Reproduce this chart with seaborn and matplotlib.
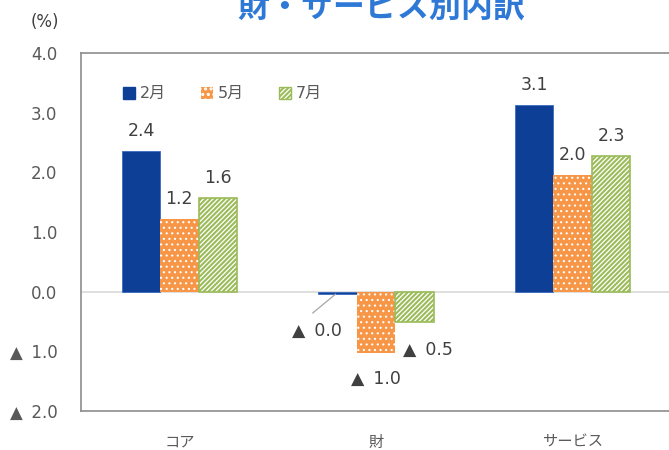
import matplotlib
matplotlib.use("Agg")
import matplotlib.pyplot as plt
import seaborn as sns
import pandas as pd
from matplotlib.patches import Patch

categories = ["コア", "財", "サービス"]
months = ["2月", "5月", "7月"]
feb = [2.36, -0.04, 3.13]
may = [1.22, -1.03, 1.96]
jul = [1.57, -0.51, 2.27]
yticks = [-2.0, -1.0, 0.0, 1.0, 2.0, 3.0, 4.0]
title = "財・サービス別内訳"
unit = "(%)"

colors = {"2月": "#0D3F96", "5月": "#F79646", "7月": "#9BBB59"}
TXT = "#595959"

sns.set_theme(style="white")
plt.rcParams["font.family"] = ["DejaVu Sans", "Noto Sans CJK JP"]
plt.rcParams["hatch.linewidth"] = 1.5

rows = []
for m, vals in zip(months, [feb, may, jul]):
    for c, v in zip(categories, vals):
        rows.append({"cat": c, "month": m, "val": v})
df = pd.DataFrame(rows)

fig = plt.figure(figsize=(6.69, 4.5), dpi=100)
ax = fig.add_axes([81 / 669, 1 - 411 / 450, 590 / 669, 358 / 450])

sns.barplot(data=df, x="cat", y="val", hue="month", order=categories,
            hue_order=months, palette=colors, width=0.585, ax=ax,
            legend=False, errorbar=None, saturation=1)


def style_dots(p):
    p.set_facecolor(colors["5月"])
    p.set_edgecolor("white")
    p.set_hatch("...")
    p.set_linewidth(0)
    if hasattr(p, "set_hatch_linewidth"):
        p.set_hatch_linewidth(0.8)


for m, cont in zip(months, ax.containers):
    for bar in cont:
        if m == "2月":
            bar.set_facecolor(colors[m])
            bar.set_edgecolor("#3B6CC0")
            bar.set_linewidth(0.6)
        elif m == "5月":
            style_dots(bar)
        else:
            bar.set_facecolor("white")
            bar.set_edgecolor(colors[m])
            bar.set_hatch("///////")
            bar.set_linewidth(1.2)


def fmt(v):
    if v < 0:
        return "▲ \u2009%.1f" % abs(v)
    return "%.1f" % v


# label offsets in pixels (dx, dy) relative to bar end
px = 0.72
special = {(0, 1): (-21, -37), (2, 1): (14, -28)}
for mi, cont in enumerate(ax.containers):
    for ci, bar in enumerate(cont):
        h = bar.get_height()
        xc = bar.get_x() + bar.get_width() / 2
        yend = bar.get_y() + h
        dx, dy = special.get((mi, ci), (0, 20 if h >= 0 else -26))
        ax.annotate(fmt(h), (xc, yend), xytext=(dx * px, dy * px),
                    textcoords="offset points", ha="center", va="center",
                    fontsize=12.5, color="#404040")
        if (mi, ci) == (0, 1):
            ax.annotate("", (xc - 2 / 197, yend), xytext=(-23 * px, -19 * px),
                        textcoords="offset points",
                        arrowprops=dict(arrowstyle="-", color="#A6A6A6", lw=0.9,
                                        shrinkA=0, shrinkB=0))

ax.set_ylim(-2, 4)
ax.set_xlim(-0.5, 2.5)
ax.set_yticks(yticks)
ax.set_yticklabels([fmt(t) for t in yticks], fontsize=12, color=TXT)
ax.tick_params(axis="y", length=0, pad=17)
ax.tick_params(axis="x", length=0, pad=17, labelsize=11, labelcolor=TXT)
ax.set_xlabel("")
ax.set_ylabel("")
for s in ["left", "top", "bottom"]:
    ax.spines[s].set_color("#8C8C8C")
    ax.spines[s].set_linewidth(1.2)
ax.spines["right"].set_visible(False)
ax.axhline(0, color="#D9D9D9", lw=1.2, zorder=0.5)

dot_handle = Patch(label="5月")
style_dots(dot_handle)
handles = [
    Patch(facecolor=colors["2月"], edgecolor=colors["2月"], label="2月"),
    dot_handle,
    Patch(facecolor="white", edgecolor=colors["7月"], hatch="///////", lw=1.0, label="7月"),
]
leg = ax.legend(handles=handles, ncol=3, loc="upper left",
                bbox_to_anchor=(0.06, 0.925), frameon=False, fontsize=11.5,
                handlelength=0.75, handleheight=0.75, handletextpad=0.3,
                columnspacing=2.2, borderaxespad=0)
for t in leg.get_texts():
    t.set_color(TXT)

fig.text(381 / 669, 1 - 17 / 450, title, ha="center", va="baseline",
         fontsize=23, fontweight="bold", color="#2E78D6",
         family=["Noto Sans CJK JP", "DejaVu Sans"])
fig.text(45 / 669, 1 - 22 / 450, unit, ha="center", va="center",
         fontsize=12, color="#404040")

fig.savefig("out.png", dpi=100)
